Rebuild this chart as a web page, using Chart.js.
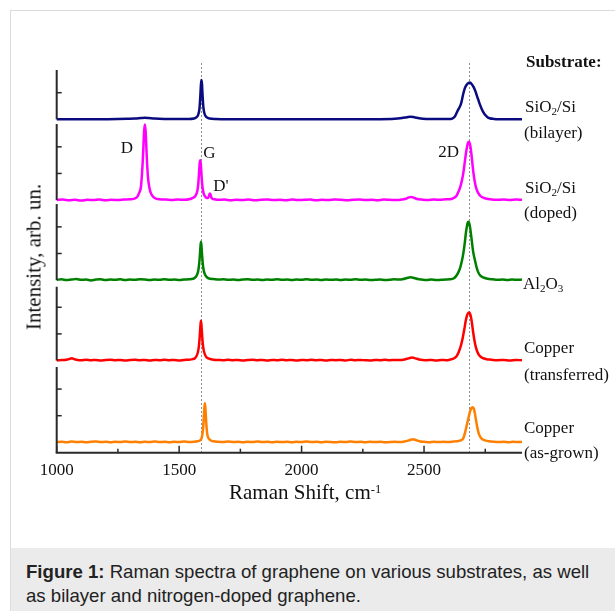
<!DOCTYPE html>
<html><head><meta charset="utf-8">
<script src="https://cdn.jsdelivr.net/npm/chart.js@4.4.1/dist/chart.umd.min.js"></script>
<style>
html,body{margin:0;padding:0;background:#fff;width:615px;height:611px;overflow:hidden;}
#frame{position:absolute;left:10px;top:10px;width:700px;height:700px;border:1px solid #dcdcdc;box-sizing:border-box;}
#caption{position:absolute;left:11px;top:548px;width:700px;height:80px;background:#ebebeb;font-family:"Liberation Sans",Arial,sans-serif;font-size:18.6px;line-height:24px;color:#222;padding:11.6px 0 0 15px;box-sizing:border-box;white-space:nowrap;}
#chart{position:absolute;left:0;top:0;}
.t{position:absolute;font-family:"Liberation Serif","Times New Roman",serif;font-size:17px;line-height:17px;color:#111;white-space:nowrap;}
.sub{position:relative;top:0.3em;font-size:0.65em;line-height:0;}
.sup{position:relative;top:-0.5em;font-size:0.6em;line-height:0;}
</style></head>
<body>
<div id="frame"></div>
<div id="caption"><b>Figure 1:</b> Raman spectra of graphene on various substrates, as well<br>as bilayer and nitrogen-doped graphene.</div>
<canvas id="chart" width="615" height="611"></canvas>

<div class="t" style="left:526px;top:52.5px;font-weight:bold">Substrate:</div>
<div class="t" style="left:525px;top:97.5px">SiO<span class="sub">2</span>/Si</div>
<div class="t" style="left:524px;top:124px">(bilayer)</div>
<div class="t" style="left:525px;top:178.5px">SiO<span class="sub">2</span>/Si</div>
<div class="t" style="left:524px;top:204px">(doped)</div>
<div class="t" style="left:523px;top:274.5px">Al<span class="sub">2</span>O<span class="sub">3</span></div>
<div class="t" style="left:524px;top:339px">Copper</div>
<div class="t" style="left:524px;top:366px">(transferred)</div>
<div class="t" style="left:524px;top:419px">Copper</div>
<div class="t" style="left:524px;top:444px">(as-grown)</div>

<div class="t" style="left:120.7px;top:138.5px">D</div>
<div class="t" style="left:203.3px;top:144.1px">G</div>
<div class="t" style="left:213.3px;top:176.5px">D'</div>
<div class="t" style="left:438.3px;top:142.5px">2D</div>

<div class="t" style="font-size:21px;line-height:21px;left:229px;top:482.4px">Raman Shift, cm<span class="sup">-1</span></div>
<div class="t" style="font-size:21px;line-height:21px;left:34px;top:257px;transform:translate(-50%,-50%) rotate(-90deg);">Intensity, arb. un.</div>

<script>
// ---------- data (Raman shift in cm^-1, intensity in arb. units above each baseline) ----------
const shiftBilayer = [1000,1100,1200,1250,1290,1320,1345,1360,1375,1400,
  1440,1500,1540,1560,1570,1578,1583,1586,1589,1591,
  1593,1596,1599,1604,1612,1625,1650,1700,1800,1900,
  2000,2100,2200,2300,2380,2410,2430,2445,2460,2480,
  2510,2560,2600,2615,2625,2632,2638,2645,2652,2660,
  2667,2674,2682,2688,2695,2703,2710,2716,2722,2728,
  2735,2742,2750,2758,2768,2785,2820,2900];
const intensityBilayer = [0,0,0.005,0.01,0.02,0.03,0.05,0.06,0.05,0.03,
  0.015,0.01,0.01,0.03,0.07,0.18,0.4,0.8,1.3,1.48,
  1.35,0.85,0.45,0.2,0.08,0.03,0.015,0.005,0,0,
  0,0,0,0.005,0.02,0.05,0.08,0.1,0.08,0.04,
  0.015,0.01,0.01,0.03,0.1,0.22,0.34,0.45,0.62,0.95,
  1.18,1.3,1.37,1.38,1.32,1.2,1.05,0.88,0.72,0.56,
  0.4,0.27,0.16,0.09,0.04,0.015,0.005,0];

const shiftDoped = [1000,1025,1050,1075,1100,1125,1150,1175,1200,1225,
  1250,1275,1300,1320,1330,1338,1344,1348,1351,1354,
  1357,1360,1363,1366,1369,1372,1376,1382,1390,1400,
  1420,1445,1470,1495,1520,1545,1556,1564,1571,1575,
  1578,1580,1582,1584,1586,1588,1590,1592,1594,1597,
  1601,1608,1614,1618,1621,1623,1626,1629,1632,1636,
  1645,1660,1685,1710,1735,1760,1785,1810,1835,1860,
  1885,1910,1935,1960,1985,2010,2035,2060,2085,2110,
  2135,2160,2185,2210,2235,2260,2285,2310,2335,2360,
  2385,2410,2425,2438,2448,2458,2472,2490,2515,2540,
  2565,2590,2605,2620,2632,2640,2648,2655,2661,2666,
  2671,2676,2680,2683,2686,2690,2694,2698,2702,2707,
  2713,2721,2732,2748,2770,2795,2825,2850,2875,2900];
const intensityDoped = [0.00,0.02,-0.01,0.01,-0.02,0.01,0.00,0.02,-0.01,0.01,
  0.00,0.02,0.03,0.06,0.14,0.30,0.50,0.95,1.40,2.00,
  2.60,2.84,2.60,2.00,1.40,0.95,0.60,0.33,0.17,0.08,
  0.03,0.02,0.00,0.02,0.01,0.04,0.08,0.13,0.24,0.38,
  0.60,0.85,1.15,1.40,1.50,1.40,1.15,0.85,0.60,0.38,
  0.22,0.11,0.08,0.09,0.14,0.20,0.25,0.18,0.09,0.05,
  0.03,0.01,0.02,-0.01,0.01,0.00,0.02,-0.01,0.01,0.02,
  0.00,0.01,-0.01,0.02,0.00,0.01,0.02,-0.01,0.01,0.00,
  0.02,0.01,-0.01,0.01,0.02,0.00,0.01,-0.01,0.02,0.01,
  0.00,0.02,0.05,0.10,0.12,0.09,0.04,0.02,0.00,0.02,
  0.01,0.03,0.03,0.07,0.15,0.30,0.50,0.75,1.05,1.40,
  1.75,2.02,2.16,2.19,2.15,1.98,1.68,1.32,1.00,0.70,
  0.45,0.27,0.14,0.07,0.03,0.01,0.02,0.00,0.02,0.01];

const shiftAl2O3 = [1000,1020,1040,1060,1080,1100,1120,1140,1160,1180,
  1200,1220,1240,1260,1280,1300,1320,1340,1360,1380,
  1400,1420,1440,1460,1480,1500,1520,1540,1556,1566,
  1573,1578,1581,1584,1587,1589,1591,1594,1597,1600,
  1605,1612,1622,1640,1660,1680,1700,1720,1740,1760,
  1780,1800,1820,1840,1860,1880,1900,1920,1940,1960,
  1980,2000,2020,2040,2060,2080,2100,2120,2140,2160,
  2180,2200,2220,2240,2260,2280,2300,2320,2340,2360,
  2380,2400,2415,2430,2445,2460,2475,2490,2510,2530,
  2550,2570,2590,2605,2620,2630,2640,2648,2656,2662,
  2667,2671,2675,2678,2681,2684,2688,2692,2696,2700,
  2707,2714,2721,2730,2741,2760,2780,2800,2820,2840,
  2860,2880,2900];
const intensityAl2O3 = [0.01,0.03,0.00,0.02,0.04,0.01,0.02,-0.01,0.02,0.03,
  0.00,0.02,0.01,0.03,0.00,0.02,0.01,0.03,0.02,0.00,
  0.02,0.01,0.03,0.01,0.02,0.00,0.02,0.03,0.05,0.10,
  0.20,0.35,0.55,0.85,1.25,1.44,1.30,0.90,0.58,0.38,
  0.22,0.12,0.06,0.04,0.02,0.03,0.01,0.02,0.00,0.02,
  0.03,0.01,0.02,0.00,0.02,0.01,0.03,0.01,0.02,0.00,
  0.02,0.01,0.03,0.01,0.02,0.00,0.02,0.01,0.02,0.00,
  0.02,0.01,0.03,0.01,0.02,0.00,0.01,0.02,0.00,0.01,
  0.03,0.02,0.04,0.08,0.11,0.08,0.04,0.02,0.00,0.02,
  0.00,0.01,0.02,0.03,0.06,0.14,0.29,0.48,0.78,1.10,
  1.45,1.78,2.02,2.15,2.19,2.15,1.98,1.70,1.40,1.10,
  0.78,0.50,0.30,0.17,0.10,0.05,0.03,0.01,0.02,0.00,
  0.02,0.01,0.02];

const shiftTransferred = [1000,1020,1040,1052,1062,1072,1085,1100,1120,1140,
  1160,1180,1200,1220,1240,1260,1280,1300,1320,1340,
  1360,1380,1400,1420,1440,1460,1480,1500,1520,1540,
  1556,1566,1573,1578,1581,1584,1587,1589,1591,1594,
  1597,1600,1605,1612,1622,1640,1660,1680,1700,1720,
  1740,1760,1780,1800,1820,1840,1860,1880,1900,1920,
  1940,1960,1980,2000,2020,2040,2060,2080,2100,2120,
  2140,2160,2180,2200,2220,2240,2260,2280,2300,2320,
  2340,2360,2380,2400,2420,2437,2452,2465,2480,2495,
  2510,2530,2550,2570,2590,2605,2620,2632,2640,2648,
  2655,2660,2665,2670,2675,2680,2684,2688,2692,2696,
  2700,2705,2711,2718,2726,2738,2755,2775,2800,2825,
  2850,2875,2900];
const intensityTransferred = [0.00,0.02,0.03,0.06,0.08,0.05,0.02,0.01,0.03,0.01,
  0.02,0.00,0.02,0.03,0.01,0.02,0.00,0.02,0.03,0.01,
  0.02,0.00,0.02,0.01,0.03,0.01,0.02,0.00,0.02,0.03,
  0.05,0.10,0.21,0.37,0.58,0.90,1.32,1.49,1.34,0.92,
  0.60,0.40,0.23,0.12,0.07,0.03,0.02,0.01,0.03,0.01,
  0.02,0.00,0.02,0.03,0.01,0.02,0.00,0.02,0.01,0.03,
  0.01,0.02,0.00,0.02,0.01,0.03,0.01,0.02,0.00,0.02,
  0.01,0.02,0.00,0.03,0.01,0.02,0.01,0.00,0.02,0.01,
  0.03,0.01,0.02,0.02,0.04,0.08,0.11,0.08,0.04,0.02,
  0.01,0.02,0.00,0.02,0.01,0.03,0.07,0.15,0.28,0.48,
  0.72,0.95,1.20,1.48,1.68,1.78,1.80,1.76,1.62,1.38,
  1.10,0.80,0.52,0.32,0.19,0.10,0.05,0.03,0.01,0.02,
  0.00,0.02,0.01];

const shiftAsGrown = [1000,1020,1040,1060,1080,1100,1120,1140,1160,1180,
  1200,1220,1240,1260,1280,1300,1320,1340,1360,1380,
  1400,1420,1440,1460,1480,1500,1520,1540,1560,1575,
  1585,1590,1594,1598,1601,1603,1605,1607,1609,1612,
  1615,1620,1628,1640,1660,1680,1700,1720,1740,1760,
  1780,1800,1820,1840,1860,1880,1900,1920,1940,1960,
  1980,2000,2020,2040,2060,2080,2100,2120,2140,2160,
  2180,2200,2220,2240,2260,2280,2300,2320,2340,2360,
  2380,2400,2420,2440,2455,2468,2485,2500,2520,2540,
  2560,2580,2600,2620,2640,2652,2660,2667,2673,2678,
  2683,2688,2693,2698,2703,2707,2711,2715,2720,2726,
  2734,2746,2765,2785,2805,2825,2845,2865,2885,2900];
const intensityAsGrown = [0.01,0.02,0.00,0.03,0.01,0.02,0.00,0.02,0.03,0.01,
  0.02,0.00,0.02,0.01,0.03,0.01,0.02,0.00,0.02,0.01,
  0.03,0.01,0.02,0.00,0.02,0.01,0.03,0.01,0.02,0.04,
  0.07,0.12,0.25,0.55,1.00,1.30,1.47,1.32,1.00,0.55,
  0.30,0.15,0.08,0.04,0.02,0.01,0.03,0.01,0.02,0.00,
  0.02,0.01,0.03,0.01,0.02,0.00,0.02,0.01,0.02,0.00,
  0.02,0.01,0.03,0.01,0.02,0.00,0.02,0.01,0.00,0.02,
  0.01,0.03,0.01,0.02,0.00,0.02,0.01,0.02,0.00,0.01,
  0.02,0.01,0.03,0.08,0.12,0.08,0.03,0.02,0.00,0.02,
  0.01,0.02,0.01,0.03,0.05,0.08,0.15,0.35,0.58,0.78,
  0.98,1.17,1.28,1.32,1.27,1.12,0.90,0.68,0.45,0.27,
  0.15,0.08,0.04,0.02,0.01,0.02,0.00,0.02,0.01,0.02];

const xTickValues = [1000, 1500, 2000, 2500];
const xMinorTickValues = [1250, 1750, 2250, 2750];
const yTickValues = [1, 2];
const peakPositions = [1590, 2684];   // G and 2D reference lines

// ---------- panels (top to bottom) ----------
const panelIds = ['p1','p2','p3','p4','p5'];
const panelMin = [-0.177, -0.15, -0.25, -0.244, -0.39];
const panelMax = [1.853, 2.857, 2.857, 2.77, 2.83];
const seriesShift = [shiftBilayer, shiftDoped, shiftAl2O3, shiftTransferred, shiftAsGrown];
const seriesIntensity = [intensityBilayer, intensityDoped, intensityAl2O3, intensityTransferred, intensityAsGrown];
const seriesColor = ['#0b0b80', '#ff00ff', '#008000', '#ff0000', '#ff8000'];

const datasets = seriesShift.map((xs, i) => ({
  data: xs.map((x, j) => ({x: x, y: seriesIntensity[i][j]})),
  yAxisID: panelIds[i],
  borderColor: seriesColor[i],
  borderWidth: 2.5,
  pointRadius: 0,
  fill: false,
  cubicInterpolationMode: 'monotone',
  clip: false
}));

const scales = {
  x: {
    type: 'linear', position: 'bottom', min: 1000, max: 2900,
    grid: {display: false, drawTicks: false}, border: {display: false},
    afterBuildTicks: s => { s.ticks = xTickValues.map(v => ({value: v})); },
    ticks: {font: {family: 'Liberation Serif', size: 17}, color: '#111', padding: 8,
            maxRotation: 0, autoSkip: false, callback: v => String(v)},
    afterFit: s => { s.height = 30; }
  }
};
panelIds.forEach((id, i) => {
  scales[id] = {
    type: 'linear', position: 'left', stack: 'panels',
    stackWeight: panelMax[i] - panelMin[i], weight: panelIds.length - i,
    min: panelMin[i], max: panelMax[i], offset: false,
    grid: {display: false, drawTicks: false}, border: {display: false},
    ticks: {display: false},
    afterFit: s => { s.width = 0; }
  };
});

const panelAxes = {
  id: 'panelAxes',
  beforeDatasetsDraw(chart) {
    const {ctx, chartArea: a} = chart;
    const x = chart.scales.x;
    ctx.save();
    ctx.strokeStyle = '#8c8c8c'; ctx.lineWidth = 1; ctx.setLineDash([2, 2]);
    peakPositions.forEach(v => {
      const px = Math.round(x.getPixelForValue(v)) + 0.5;
      ctx.beginPath(); ctx.moveTo(px, a.top - 7); ctx.lineTo(px, a.bottom); ctx.stroke();
    });
    ctx.restore();
  },
  afterDatasetsDraw(chart) {
    const {ctx, chartArea: a} = chart;
    const x = chart.scales.x;
    ctx.save();
    ctx.strokeStyle = '#2a2a2a'; ctx.lineCap = 'butt';
    panelIds.forEach((id, i) => {
      const s = chart.scales[id];
      const yTop = s.top;
      const yBot = i === panelIds.length - 1 ? a.bottom : s.getPixelForValue(0);
      ctx.lineWidth = 2;
      ctx.beginPath(); ctx.moveTo(a.left, yTop); ctx.lineTo(a.left, yBot); ctx.stroke();
      ctx.lineWidth = 1.5;
      yTickValues.forEach(v => {
        if (v < s.max) {
          const py = s.getPixelForValue(v);
          ctx.beginPath(); ctx.moveTo(a.left, py); ctx.lineTo(a.left + 5, py); ctx.stroke();
        }
      });
    });
    ctx.lineWidth = 2;
    ctx.beginPath(); ctx.moveTo(a.left - 1, a.bottom); ctx.lineTo(a.right, a.bottom); ctx.stroke();
    ctx.lineWidth = 1.5;
    xTickValues.forEach(v => {
      const px = x.getPixelForValue(v);
      ctx.beginPath(); ctx.moveTo(px, a.bottom); ctx.lineTo(px, a.bottom - 7); ctx.stroke();
    });
    xMinorTickValues.forEach(v => {
      const px = x.getPixelForValue(v);
      ctx.beginPath(); ctx.moveTo(px, a.bottom); ctx.lineTo(px, a.bottom - 4); ctx.stroke();
    });
    ctx.restore();
  }
};

new Chart(document.getElementById('chart'), {
  type: 'line',
  data: {datasets: datasets},
  options: {
    responsive: false, animation: false, devicePixelRatio: 1,
    parsing: true,
    layout: {padding: {left: 56.7, right: 93, top: 70, bottom: 128.3}},
    plugins: {legend: {display: false}, tooltip: {enabled: false}},
    scales: scales
  },
  plugins: [panelAxes]
});
</script>
</body></html>
